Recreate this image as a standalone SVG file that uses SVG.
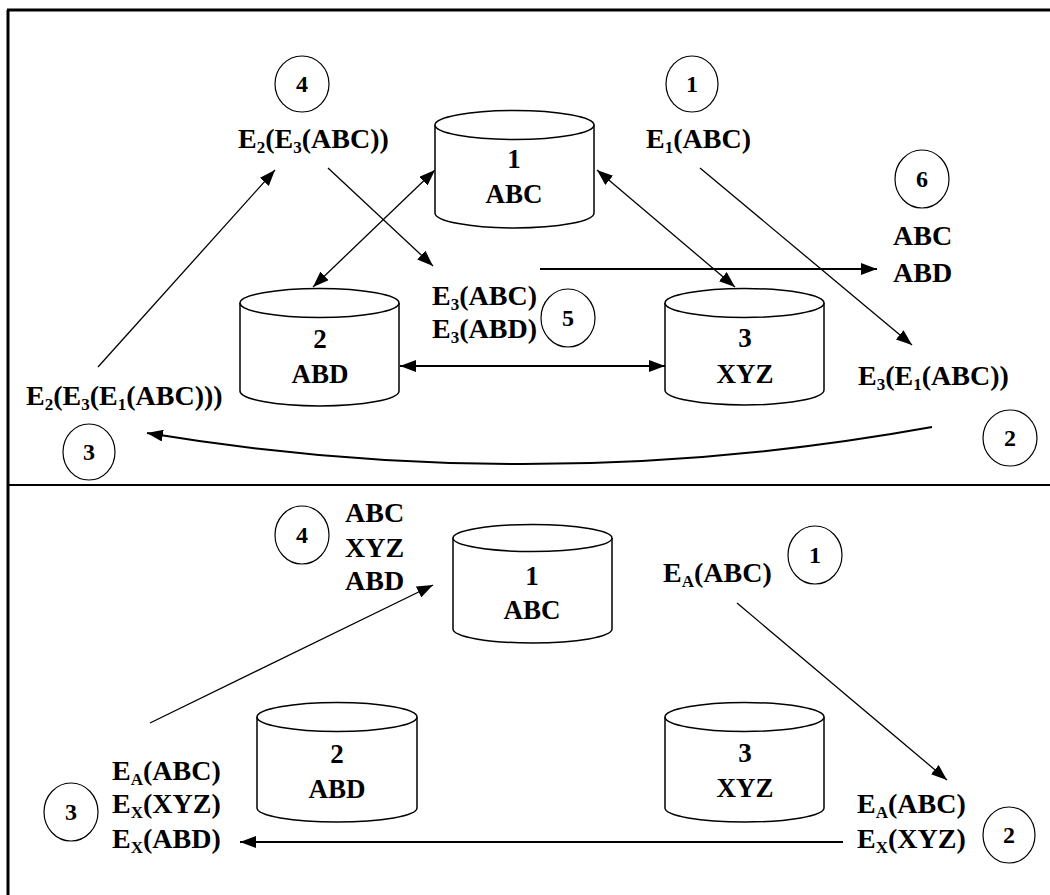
<svg xmlns="http://www.w3.org/2000/svg" width="1050" height="895" viewBox="0 0 1050 895">
<defs>
<style>
.cyl{fill:#fff;stroke:#000;stroke-width:1.5}
.circ{fill:none;stroke:#000;stroke-width:1.2}
.ln{fill:none;stroke:#000;stroke-width:1.3}
.ln2{fill:none;stroke:#000;stroke-width:2}
.frame{stroke:#000;stroke-width:3}
</style>
<marker id="ah" markerUnits="userSpaceOnUse" markerWidth="16" markerHeight="12" refX="16" refY="6" orient="auto-start-reverse">
<path d="M0,0 L16,6 L0,12 z" fill="#000"/>
</marker>
</defs>
<rect width="1050" height="895" fill="#fff"/>
<g id="frame">
<line class="frame" x1="7" y1="10" x2="1050" y2="10"/>
<line class="frame" x1="8" y1="10" x2="8" y2="895"/>
<line x1="8" y1="485" x2="1050" y2="485" stroke="#000" stroke-width="2"/>
</g>
<g id="connectors">
<line class="ln" x1="328" y1="168" x2="433" y2="266" marker-end="url(#ah)"/>
<line class="ln" x1="313" y1="287" x2="435" y2="170" marker-start="url(#ah)" marker-end="url(#ah)"/>
<line class="ln" x1="597" y1="170" x2="735" y2="287" marker-start="url(#ah)" marker-end="url(#ah)"/>
<line class="ln" x1="700" y1="168" x2="912" y2="345" marker-end="url(#ah)"/>
<line class="ln2" x1="540" y1="269" x2="877" y2="269" marker-end="url(#ah)"/>
<line class="ln2" x1="400" y1="366" x2="665" y2="366" marker-start="url(#ah)" marker-end="url(#ah)"/>
<line class="ln" x1="98" y1="367" x2="275" y2="170" marker-end="url(#ah)"/>
<path class="ln2" d="M932,427 Q540,498 147,433" marker-end="url(#ah)"/>
<line class="ln" x1="150" y1="723" x2="433" y2="585" marker-end="url(#ah)"/>
<line class="ln" x1="737" y1="603" x2="947" y2="780" marker-end="url(#ah)"/>
<line class="ln2" x1="843" y1="842" x2="240" y2="842" marker-end="url(#ah)"/>
</g>
<g font-family="Liberation Serif, Times New Roman, serif" font-weight="bold" fill="#000">
<g id="db1-top">
<path class="cyl" d="M435,125 L435,213 A79.5,15 0 0 0 594,213 L594,125"/>
<ellipse class="cyl" cx="514.5" cy="125" rx="79.5" ry="14.5"/>
<text font-size="27" text-anchor="middle" x="514" y="168">1</text>
<text font-size="27" text-anchor="middle" x="514" y="203">ABC</text>
</g>
<g id="db2-top">
<path class="cyl" d="M240,303 L240,391 A79.5,15 0 0 0 399,391 L399,303"/>
<ellipse class="cyl" cx="319.5" cy="303" rx="79.5" ry="14.5"/>
<text font-size="27" text-anchor="middle" x="320" y="348">2</text>
<text font-size="27" text-anchor="middle" x="320" y="383">ABD</text>
</g>
<g id="db3-top">
<path class="cyl" d="M665,303 L665,390 A79.5,15 0 0 0 824,390 L824,303"/>
<ellipse class="cyl" cx="744.5" cy="303" rx="79.5" ry="14.5"/>
<text font-size="27" text-anchor="middle" x="745" y="347">3</text>
<text font-size="27" text-anchor="middle" x="745" y="383">XYZ</text>
</g>
<g id="step4-top">
<ellipse class="circ" cx="302" cy="84" rx="27" ry="28"/>
<text font-size="24" text-anchor="middle" x="302" y="92">4</text>
<text font-size="28" x="238" y="148">E<tspan font-size="17" dy="5">2</tspan><tspan dy="-5">(E</tspan><tspan font-size="17" dy="5">3</tspan><tspan dy="-5">(ABC))</tspan></text>
</g>
<g id="step1-top">
<ellipse class="circ" cx="692" cy="84" rx="26" ry="28"/>
<text font-size="24" text-anchor="middle" x="692" y="92">1</text>
<text font-size="28" x="646" y="148">E<tspan font-size="17" dy="5">1</tspan><tspan dy="-5">(ABC)</tspan></text>
</g>
<g id="step6-top">
<ellipse class="circ" cx="922" cy="179" rx="27" ry="29"/>
<text font-size="24" text-anchor="middle" x="922" y="187">6</text>
<text font-size="28" x="893" y="245">ABC</text>
<text font-size="28" x="893" y="282">ABD</text>
</g>
<g id="step5-top">
<ellipse class="circ" cx="568" cy="318" rx="27" ry="29"/>
<text font-size="24" text-anchor="middle" x="568" y="326">5</text>
<text font-size="28" x="432" y="305">E<tspan font-size="17" dy="5">3</tspan><tspan dy="-5">(ABC)</tspan></text>
<text font-size="28" x="432" y="338">E<tspan font-size="17" dy="5">3</tspan><tspan dy="-5">(ABD)</tspan></text>
</g>
<g id="step2-top">
<ellipse class="circ" cx="1010" cy="438" rx="27" ry="28"/>
<text font-size="24" text-anchor="middle" x="1010" y="446">2</text>
<text font-size="28" x="858" y="385">E<tspan font-size="17" dy="5">3</tspan><tspan dy="-5">(E</tspan><tspan font-size="17" dy="5">1</tspan><tspan dy="-5">(ABC))</tspan></text>
</g>
<g id="step3-top">
<ellipse class="circ" cx="89" cy="452" rx="26" ry="28"/>
<text font-size="24" text-anchor="middle" x="89" y="460">3</text>
<text font-size="28" x="26" y="405">E<tspan font-size="17" dy="5">2</tspan><tspan dy="-5">(E</tspan><tspan font-size="17" dy="5">3</tspan><tspan dy="-5">(E</tspan><tspan font-size="17" dy="5">1</tspan><tspan dy="-5">(ABC)))</tspan></text>
</g>
<g id="db1-bottom">
<path class="cyl" d="M453,538 L453,629 A79.5,14 0 0 0 612,629 L612,538"/>
<ellipse class="cyl" cx="532.5" cy="538" rx="79.5" ry="13.5"/>
<text font-size="27" text-anchor="middle" x="532" y="585">1</text>
<text font-size="27" text-anchor="middle" x="532" y="619">ABC</text>
</g>
<g id="db2-bottom">
<path class="cyl" d="M257,717 L257,808 A80,14 0 0 0 417,808 L417,717"/>
<ellipse class="cyl" cx="337" cy="717" rx="80" ry="14.5"/>
<text font-size="27" text-anchor="middle" x="337" y="763">2</text>
<text font-size="27" text-anchor="middle" x="337" y="798">ABD</text>
</g>
<g id="db3-bottom">
<path class="cyl" d="M665,717 L665,808 A79.5,14 0 0 0 824,808 L824,717"/>
<ellipse class="cyl" cx="744.5" cy="717" rx="79.5" ry="14.5"/>
<text font-size="27" text-anchor="middle" x="745" y="762">3</text>
<text font-size="27" text-anchor="middle" x="745" y="797">XYZ</text>
</g>
<g id="step4-bottom">
<ellipse class="circ" cx="302" cy="535" rx="27" ry="29"/>
<text font-size="24" text-anchor="middle" x="302" y="543">4</text>
<text font-size="28" x="345" y="522">ABC</text>
<text font-size="28" x="345" y="557">XYZ</text>
<text font-size="28" x="345" y="590">ABD</text>
</g>
<g id="step1-bottom">
<ellipse class="circ" cx="815" cy="555" rx="27" ry="29"/>
<text font-size="24" text-anchor="middle" x="815" y="563">1</text>
<text font-size="28" x="663" y="582">E<tspan font-size="17" dy="5">A</tspan><tspan dy="-5">(ABC)</tspan></text>
</g>
<g id="step2-bottom">
<ellipse class="circ" cx="1009" cy="835" rx="26" ry="28"/>
<text font-size="24" text-anchor="middle" x="1009" y="843">2</text>
<text font-size="28" x="857" y="813">E<tspan font-size="17" dy="5">A</tspan><tspan dy="-5">(ABC)</tspan></text>
<text font-size="28" x="857" y="848">E<tspan font-size="17" dy="5">X</tspan><tspan dy="-5">(XYZ)</tspan></text>
</g>
<g id="step3-bottom">
<ellipse class="circ" cx="71" cy="812" rx="27" ry="29"/>
<text font-size="24" text-anchor="middle" x="71" y="820">3</text>
<text font-size="28" x="112" y="780">E<tspan font-size="17" dy="5">A</tspan><tspan dy="-5">(ABC)</tspan></text>
<text font-size="28" x="112" y="813">E<tspan font-size="17" dy="5">X</tspan><tspan dy="-5">(XYZ)</tspan></text>
<text font-size="28" x="112" y="848">E<tspan font-size="17" dy="5">X</tspan><tspan dy="-5">(ABD)</tspan></text>
</g>
</g>
</svg>
